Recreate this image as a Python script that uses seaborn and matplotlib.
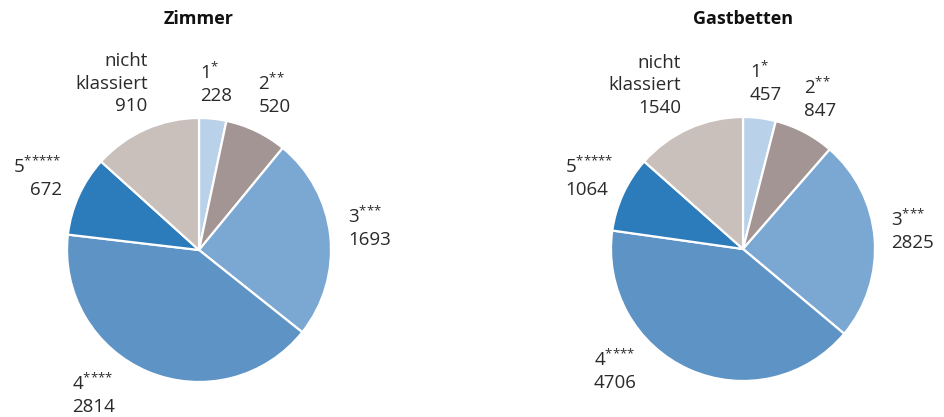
import matplotlib
matplotlib.use("Agg")
import matplotlib.pyplot as plt
import seaborn as sns

categories = ["1", "2", "3", "4", "5", "nicht\nklassiert"]
stars = [1, 2, 3, 4, 5, 0]
zimmer = [228, 520, 1693, 2814, 672, 910]
gastbetten = [457, 847, 2825, 4706, 1064, 1540]
titles = ["Zimmer", "Gastbetten"]

colors = ["#b9d1e9", "#a39593", "#7ba7d3", "#5e93c6", "#2c7bbb", "#c9c0bc"]

sns.set_theme(style="white")
plt.rcParams["font.family"] = ["Open Sans", "DejaVu Sans"]
plt.rcParams["mathtext.fontset"] = "custom"
plt.rcParams["mathtext.rm"] = "Open Sans"
plt.rcParams["mathtext.default"] = "regular"

# label anchors (in pie-radius units) and alignment, tuned per chart
label_layout = [
    [(0.01, 1.26, "left"), (0.45, 1.18, "left"), (1.13, 0.17, "left"),
     (-0.96, -1.09, "left"), (-1.04, 0.55, "right"), (-0.39, 1.26, "right")],
    [(0.05, 1.26, "left"), (0.46, 1.14, "left"), (1.12, 0.14, "left"),
     (-1.13, -0.92, "left"), (-1.35, 0.54, "left"), (-0.47, 1.24, "right")],
]

W, H, R = 944, 417, 132
centers = [(199, 250), (743, 249)]

fig = plt.figure(figsize=(W / 100, H / 100), dpi=100)

for i, values in enumerate([zimmer, gastbetten]):
    x0 = i * W / 2
    ax = fig.add_axes([x0 / W, 0, 0.5, 1])
    cx, cy = centers[i][0] - x0, centers[i][1]

    ax.pie(values, colors=colors, startangle=90, counterclock=False,
           radius=1, wedgeprops=dict(edgecolor="white", linewidth=1.6))
    ax.set_xlim(-cx / R, (W / 2 - cx) / R)
    ax.set_ylim(-(H - cy) / R, cy / R)
    ax.set_aspect("auto")
    ax.axis("off")

    for cat, n, val, (lx, ly, ha) in zip(categories, stars, values, label_layout[i]):
        head = f"${cat}^{{{'{*}' * n}}}$" if n else cat
        ax.text(lx, ly, f"{head}\n{val}", ha=ha, va="center", ma=ha,
                fontsize=13.5, color="#2a2a2a", linespacing=1.3)

    ax.text(0, (cy - 19) / R, titles[i], ha="center", va="center",
            fontsize=13, fontweight="bold", color="#111111")

fig.savefig("out.png", dpi=100)
